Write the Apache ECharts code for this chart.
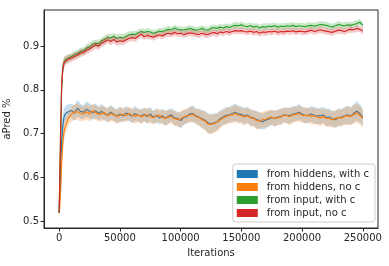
<!DOCTYPE html>
<html><head><meta charset="utf-8">
<script src="https://cdn.jsdelivr.net/npm/echarts@6/dist/echarts.min.js"></script>
<style>html,body{margin:0;padding:0;background:#fff}#c{width:389px;height:266px}</style>
</head><body><div id="c"></div>
<script>
const seriesNames = ['from hiddens, with c','from hiddens, no c','from input, with c','from input, no c'];
const xTicks = [0,50000,100000,150000,200000,250000];
const yTicks = [0.5,0.6,0.7,0.8,0.9];
const iterations = [0,1000,2000,3000,4000,5000,
 7500,10000,12500,15000,17500,20000,22500,25000,27500,30000,
 32500,35000,37500,40000,42500,45000,47500,50000,52500,55000,
 57500,60000,62500,65000,67500,70000,72500,75000,77500,80000,
 82500,85000,87500,90000,92500,95000,97500,100000,102500,105000,
 107500,110000,112500,115000,117500,120000,122500,125000,127500,130000,
 132500,135000,137500,140000,142500,145000,147500,150000,152500,155000,
 157500,160000,162500,165000,167500,170000,172500,175000,177500,180000,
 182500,185000,187500,190000,192500,195000,197500,200000,202500,205000,
 207500,210000,212500,215000,217500,220000,222500,225000,227500,230000,
 232500,235000,237500,240000,242500,245000,247500,250000];
const hiddensWithC = [0.52,0.6,0.68,0.72,0.738,0.745,
 0.75,0.753,0.747,0.758,0.751,0.749,0.756,0.751,0.748,0.752,
 0.746,0.751,0.745,0.743,0.749,0.744,0.740,0.745,0.741,0.747,
 0.744,0.740,0.746,0.742,0.740,0.744,0.739,0.745,0.737,0.742,
 0.736,0.741,0.735,0.740,0.743,0.736,0.734,0.730,0.737,0.739,
 0.745,0.746,0.741,0.738,0.734,0.731,0.725,0.722,0.725,0.727,
 0.734,0.738,0.742,0.743,0.746,0.749,0.745,0.744,0.740,0.743,
 0.737,0.736,0.732,0.730,0.727,0.731,0.733,0.737,0.734,0.738,
 0.739,0.743,0.742,0.741,0.745,0.746,0.749,0.745,0.742,0.741,
 0.745,0.742,0.740,0.741,0.743,0.737,0.738,0.734,0.732,0.737,
 0.738,0.741,0.743,0.740,0.746,0.752,0.746,0.737];
const hiddensNoC = [0.52,0.56,0.63,0.68,0.705,0.716,
 0.735,0.744,0.749,0.750,0.746,0.745,0.750,0.745,0.752,0.748,
 0.744,0.745,0.748,0.741,0.746,0.743,0.739,0.742,0.745,0.741,
 0.746,0.742,0.740,0.743,0.738,0.742,0.743,0.739,0.737,0.740,
 0.742,0.737,0.735,0.738,0.739,0.734,0.732,0.734,0.738,0.741,
 0.742,0.744,0.739,0.737,0.732,0.729,0.722,0.721,0.723,0.726,
 0.731,0.736,0.739,0.742,0.743,0.746,0.742,0.741,0.738,0.741,
 0.736,0.735,0.730,0.729,0.732,0.733,0.736,0.738,0.735,0.736,
 0.738,0.742,0.741,0.739,0.743,0.744,0.746,0.742,0.741,0.743,
 0.739,0.741,0.738,0.736,0.739,0.735,0.734,0.732,0.735,0.737,
 0.735,0.740,0.741,0.739,0.744,0.747,0.742,0.735];
const inputWithC = [0.52,0.66,0.80,0.85,0.862,0.868,
 0.872,0.876,0.88,0.883,0.887,0.889,0.895,0.898,0.904,0.906,
 0.905,0.912,0.915,0.92,0.918,0.922,0.917,0.92,0.918,0.922,
 0.925,0.927,0.926,0.93,0.933,0.931,0.933,0.932,0.929,0.931,
 0.934,0.933,0.936,0.938,0.937,0.941,0.938,0.937,0.936,0.938,
 0.94,0.938,0.936,0.937,0.94,0.937,0.936,0.94,0.942,0.94,
 0.943,0.941,0.944,0.942,0.945,0.947,0.946,0.948,0.945,0.944,
 0.946,0.943,0.945,0.941,0.944,0.943,0.945,0.944,0.946,0.943,
 0.945,0.944,0.946,0.945,0.947,0.944,0.946,0.945,0.944,0.946,
 0.947,0.945,0.947,0.949,0.948,0.947,0.945,0.943,0.946,0.949,
 0.947,0.946,0.948,0.947,0.949,0.951,0.954,0.947];
const inputNoC = [0.52,0.68,0.81,0.85,0.862,0.866,
 0.87,0.872,0.876,0.879,0.884,0.885,0.89,0.893,0.898,0.902,
 0.9,0.906,0.91,0.914,0.91,0.915,0.909,0.912,0.91,0.914,
 0.917,0.919,0.917,0.922,0.927,0.921,0.924,0.922,0.92,0.923,
 0.925,0.923,0.927,0.929,0.927,0.931,0.928,0.929,0.926,0.928,
 0.93,0.929,0.927,0.926,0.929,0.927,0.926,0.929,0.931,0.928,
 0.932,0.93,0.933,0.931,0.933,0.935,0.934,0.935,0.933,0.932,
 0.934,0.931,0.933,0.929,0.932,0.931,0.933,0.932,0.934,0.931,
 0.933,0.932,0.934,0.933,0.935,0.932,0.934,0.933,0.932,0.934,
 0.936,0.933,0.935,0.937,0.935,0.934,0.932,0.931,0.934,0.936,
 0.935,0.933,0.936,0.938,0.937,0.94,0.938,0.934];
// half-widths of the shaded bands
const hiddenSpread = [0.01,0.03,0.03,0.025,0.02,0.018,
 0.017,0.016,0.018,0.019,0.017,0.016,0.018,0.017,0.016,0.017,
 0.016,0.017,0.015,0.016,0.017,0.015,0.016,0.017,0.015,0.016,
 0.015,0.016,0.017,0.015,0.016,0.015,0.017,0.016,0.015,0.016,
 0.015,0.016,0.017,0.016,0.015,0.017,0.016,0.018,0.017,0.016,
 0.017,0.018,0.017,0.019,0.02,0.021,0.022,0.022,0.021,0.02,
 0.019,0.018,0.019,0.018,0.019,0.02,0.019,0.018,0.019,0.018,
 0.019,0.018,0.02,0.019,0.018,0.019,0.018,0.017,0.018,0.017,
 0.018,0.017,0.018,0.019,0.018,0.017,0.018,0.017,0.018,0.017,
 0.018,0.019,0.018,0.019,0.018,0.02,0.019,0.018,0.019,0.02,
 0.019,0.02,0.021,0.02,0.021,0.022,0.021,0.02];
const inputSpread = [0.01,0.03,0.025,0.015,0.012,0.01,
 0.009,0.008,0.009,0.008,0.009,0.008,0.009,0.008,0.009,0.008,
 0.009,0.008,0.009,0.008,0.009,0.008,0.009,0.008,0.009,0.008,
 0.008,0.007,0.008,0.007,0.008,0.007,0.008,0.007,0.008,0.007,
 0.007,0.008,0.007,0.008,0.007,0.008,0.007,0.008,0.007,0.008,
 0.007,0.008,0.007,0.008,0.007,0.008,0.007,0.008,0.007,0.008,
 0.007,0.008,0.007,0.008,0.007,0.008,0.007,0.008,0.007,0.008,
 0.007,0.008,0.007,0.008,0.007,0.008,0.007,0.008,0.007,0.008,
 0.007,0.008,0.007,0.008,0.007,0.008,0.007,0.008,0.007,0.008,
 0.007,0.008,0.007,0.008,0.007,0.008,0.007,0.008,0.007,0.008,
 0.007,0.008,0.007,0.008,0.007,0.008,0.007,0.008];

const colors = ['#1f77b4','#ff7f0e','#2ca02c','#d62728'];
const means = [hiddensWithC, hiddensNoC, inputWithC, inputNoC];
const spreads = [hiddenSpread, hiddenSpread, inputSpread, inputSpread];

const chart = echarts.init(document.getElementById('c'), null, {renderer:'canvas'});
const series = [];
means.forEach((m, k) => {
  series.push({
    type: 'custom', name: 'band' + k, silent: true, z: 2 + k * 2,
    data: [[iterations[0], m[0]]],
    renderItem: function (params, api) {
      const pts = [];
      for (let i = 0; i < iterations.length; i++) pts.push(api.coord([iterations[i], m[i] + spreads[k][i]]));
      for (let i = iterations.length - 1; i >= 0; i--) pts.push(api.coord([iterations[i], m[i] - spreads[k][i]]));
      return { type: 'polygon', shape: { points: pts }, style: { fill: colors[k], opacity: 0.25 } };
    }
  });
  series.push({
    type: 'line', name: seriesNames[k], z: 3 + k * 2, showSymbol: false, symbol: 'none',
    data: iterations.map((x, i) => [x, m[i]]),
    lineStyle: { color: colors[k], width: 1.2 }, itemStyle: { color: colors[k] }
  });
});

const axisFont = { fontFamily: 'DejaVu Sans', fontSize: 10, color: '#262626' };
chart.setOption({
  animation: false,
  backgroundColor: '#fff',
  grid: { left: 44, right: 11, top: 10, bottom: 38, show: true, borderColor: '#262626', borderWidth: 1, containLabel: false, outerBoundsMode: 'none' },
  legend: {
    data: seriesNames, orient: 'vertical', right: 14, bottom: 44,
    icon: 'rect', itemWidth: 21, itemHeight: 8, itemGap: 3,
    textStyle: { fontFamily: 'DejaVu Sans', fontSize: 10, color: '#262626', padding: [0,0,0,4] },
    backgroundColor: 'rgba(255,255,255,0.85)', borderColor: '#cccccc', borderWidth: 1, borderRadius: 3,
    padding: [5, 6, 4, 4]
  },
  xAxis: {
    type: 'value', min: -12500, max: 262500,
    name: 'Iterations', nameLocation: 'middle', nameGap: 20,
    nameTextStyle: { fontFamily: 'DejaVu Sans', fontSize: 10, color: '#262626' },
    splitLine: { show: false },
    axisLine: { show: true, onZero: false, lineStyle: { color: '#262626' } },
    axisTick: { show: true, length: 3.5, customValues: xTicks, lineStyle: { color: '#262626' } },
    axisLabel: Object.assign({ customValues: xTicks, margin: 5, formatter: v => String(v) }, axisFont)
  },
  yAxis: {
    type: 'value', min: 0.485, max: 0.982,
    name: 'aPred %', nameLocation: 'middle', nameGap: 26, nameRotate: 90,
    nameTextStyle: { fontFamily: 'DejaVu Sans', fontSize: 10, color: '#262626' },
    splitLine: { show: false },
    axisLine: { show: true, onZero: false, lineStyle: { color: '#262626' } },
    axisTick: { show: true, length: 3.5, customValues: yTicks, lineStyle: { color: '#262626' } },
    axisLabel: Object.assign({ customValues: yTicks, margin: 5, formatter: v => v.toFixed(1) }, axisFont)
  },
  series: series
});
</script></body></html>
